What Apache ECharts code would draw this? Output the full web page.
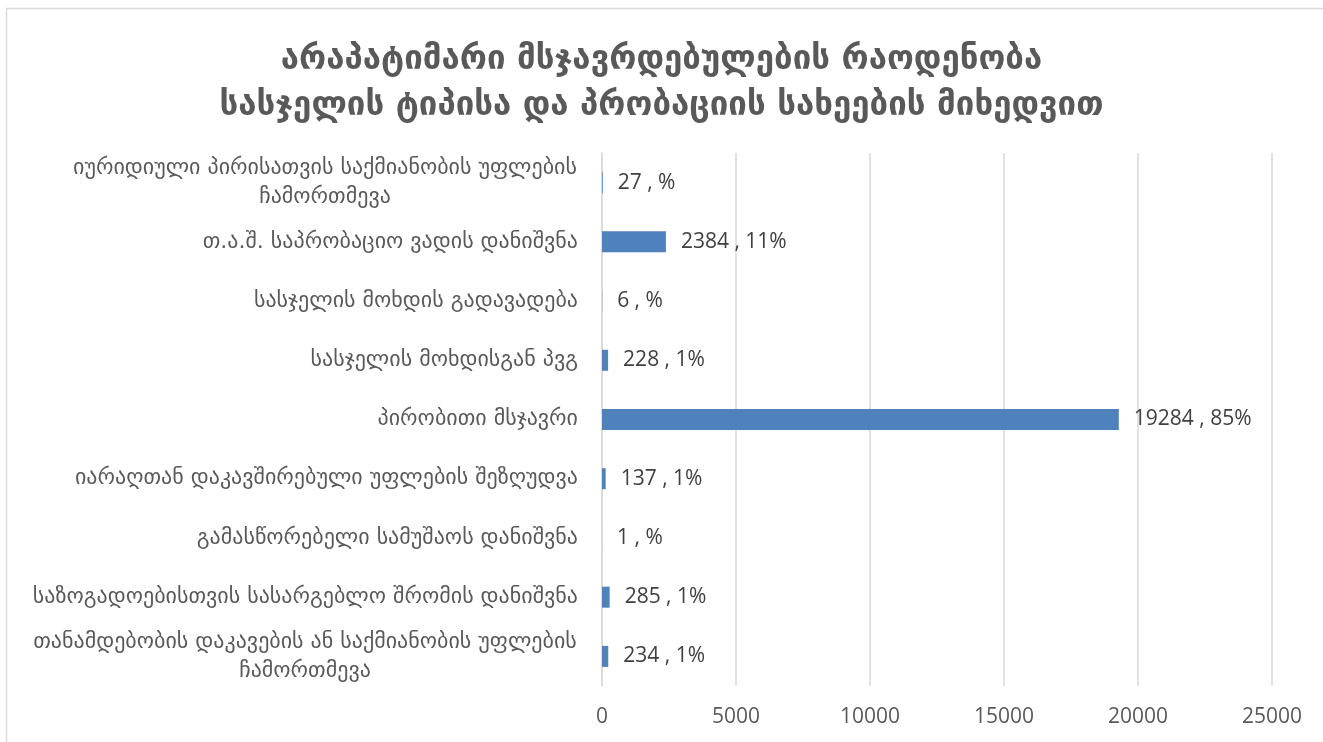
<!DOCTYPE html>
<html>
<head>
<meta charset="utf-8">
<title>არაპატიმარი მსჯავრდებულები</title>
<script src="https://cdn.jsdelivr.net/npm/echarts@6/dist/echarts.min.js"></script>
<style>
  html, body { margin: 0; padding: 0; background: #ffffff; }
  #chart { width: 1323px; height: 742px; }
</style>
</head>
<body>
<div id="chart"></div>
<script>
// Probation types, listed top to bottom
const categories = [
  'იურიდიული პირისათვის საქმიანობის უფლების\nჩამორთმევა',
  'თ.ა.შ. საპრობაციო ვადის დანიშვნა',
  'სასჯელის მოხდის გადავადება',
  'სასჯელის მოხდისგან პვგ',
  'პირობითი მსჯავრი',
  'იარაღთან დაკავშირებული უფლების შეზღუდვა',
  'გამასწორებელი სამუშაოს დანიშვნა',
  'საზოგადოებისთვის სასარგებლო შრომის დანიშვნა',
  'თანამდებობის დაკავების ან საქმიანობის უფლების\nჩამორთმევა'
];
const counts = [27, 2384, 6, 228, 19284, 137, 1, 285, 234];
const xTicks = [0, 5000, 10000, 15000, 20000, 25000];

const titleLines = [
  'არაპატიმარი მსჯავრდებულების რაოდენობა',
  'სასჯელის ტიპისა და პრობაციის სახეების მიხედვით'
];

const GEO_FONT = '"DejaVu Sans", "Noto Sans", sans-serif';
const NUM_FONT = '"Open Sans", "DejaVu Sans Condensed", sans-serif';
const LABEL_SIZE = 22;
const LABEL_LINE = 29;

const total = counts.reduce((a, b) => a + b, 0);

// Measure text so wrapped category labels can be centred line by line
const measureCtx = document.createElement('canvas').getContext('2d');
measureCtx.font = LABEL_SIZE + 'px ' + GEO_FONT;
const rich = {};
categories.forEach((c, i) => {
  const lines = c.split('\n');
  if (lines.length > 1) {
    const w = Math.max(...lines.map(l => measureCtx.measureText(l).width));
    rich['w' + i] = {
      width: Math.ceil(w) + 2,
      align: 'center',
      fontSize: LABEL_SIZE,
      fontFamily: GEO_FONT,
      color: '#595959',
      lineHeight: LABEL_LINE
    };
  }
});

const chart = echarts.init(document.getElementById('chart'), null, { renderer: 'canvas' });

chart.setOption({
  backgroundColor: '#ffffff',
  animation: false,
  graphic: [{
    type: 'rect',
    shape: { x: 6.5, y: 8.5, width: 1400, height: 800 },
    style: { fill: 'none', stroke: '#d9d9d9', lineWidth: 1.5 },
    silent: true
  }],
  title: {
    text: titleLines.join('\n'),
    left: 'center',
    top: 32,
    textStyle: {
      fontFamily: GEO_FONT,
      fontWeight: 'bold',
      fontSize: 33,
      lineHeight: 46,
      color: '#595959'
    }
  },
  grid: { left: 602, right: 51, top: 153, bottom: 56, containLabel: false },
  xAxis: {
    type: 'value',
    min: xTicks[0],
    max: xTicks[xTicks.length - 1],
    interval: xTicks[1] - xTicks[0],
    axisLine: { show: false },
    axisTick: { show: false },
    splitLine: { show: true, lineStyle: { color: '#d9d9d9', width: 1.5 } },
    axisLabel: {
      margin: 21,
      fontFamily: NUM_FONT,
      fontSize: 21,
      color: '#595959',
      formatter: v => String(v)
    }
  },
  yAxis: {
    type: 'category',
    inverse: true,
    data: categories,
    axisLine: { show: true, lineStyle: { color: '#d9d9d9', width: 1.5 } },
    axisTick: { show: false },
    axisLabel: {
      margin: 24,
      fontFamily: GEO_FONT,
      fontSize: LABEL_SIZE,
      color: '#595959',
      lineHeight: LABEL_LINE,
      rich: rich,
      formatter: value => {
        const lines = value.split('\n');
        if (lines.length === 1) return value;
        const key = 'w' + categories.indexOf(value);
        return lines.map(l => '{' + key + '|' + l + '}').join('\n');
      }
    }
  },
  series: [{
    type: 'bar',
    data: counts,
    barWidth: 21,
    itemStyle: { color: '#4f81bd' },
    label: {
      show: true,
      position: 'right',
      distance: 15,
      fontFamily: NUM_FONT,
      fontSize: 21,
      color: '#404040',
      formatter: p => {
        const pct = Math.round(p.value / total * 100);
        return p.value + ' , ' + (pct > 0 ? pct : '') + '%';
      }
    }
  }]
});
</script>
</body>
</html>
